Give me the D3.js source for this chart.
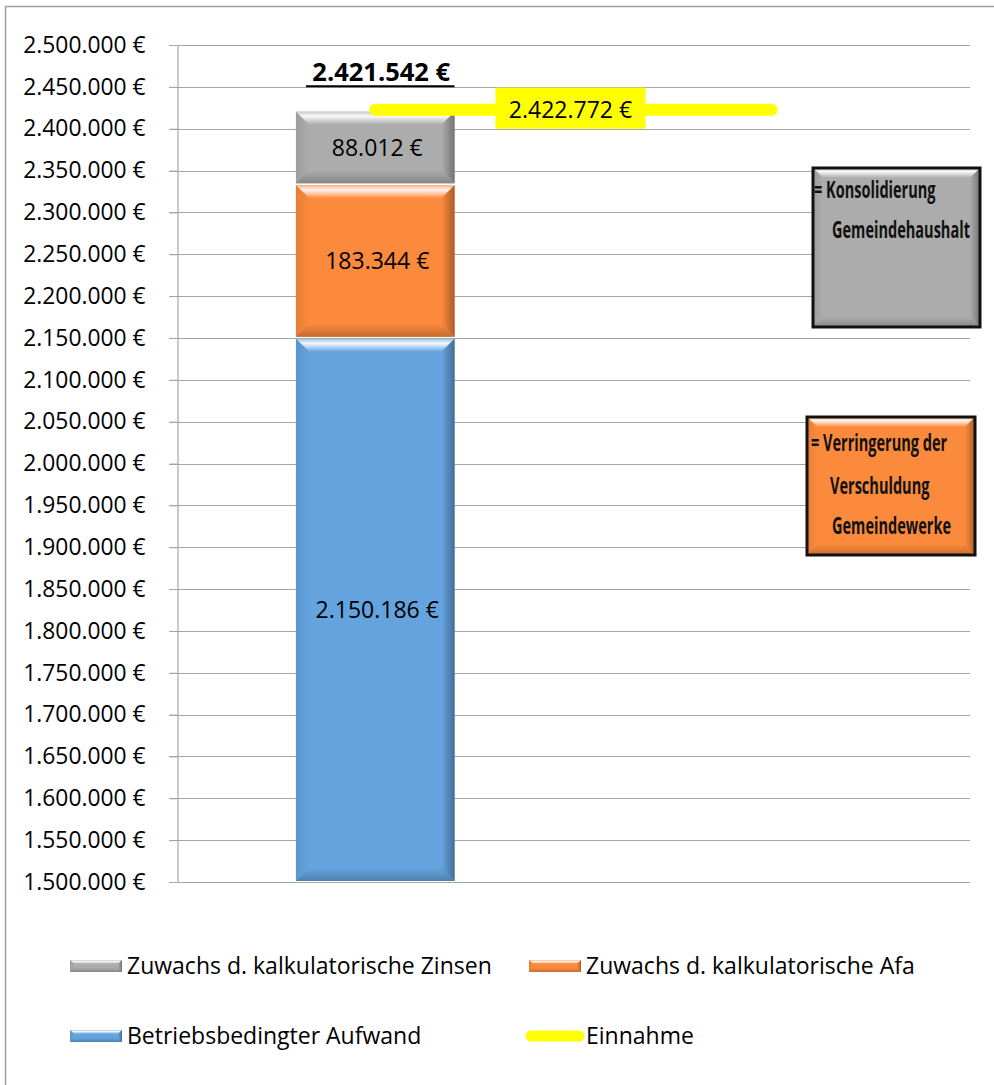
<!DOCTYPE html>
<html><head><meta charset="utf-8">
<script src="https://cdn.jsdelivr.net/npm/d3@7"></script>
<style>
html,body{margin:0;padding:0;background:#fff;}
svg{display:block;}
text{font-family:"Open Sans",Lato,sans-serif;}
</style></head>
<body><svg id="chart" width="994" height="1085"></svg>
<script>
// ---- data ----
const categories = ["A", "B"];
const betriebsbedingterAufwand = [2150186, null];
const zuwachsAfa = [183344, null];
const zuwachsZinsen = [88012, null];
const einnahme = [2422772, 2422772];
const totalLabel = ["2.421.542 €"];
const seriesNames = ["Zuwachs d. kalkulatorische Zinsen", "Zuwachs d. kalkulatorische Afa", "Betriebsbedingter Aufwand", "Einnahme"];
const yTickValues = d3.range(1500000, 2500001, 50000);
const noteGrey = ["= Konsolidierung", "Gemeindehaushalt"];
const noteOrange = ["= Verringerung der", "Verschuldung", "Gemeindewerke"];

// ---- setup ----
const de = d3.formatLocale({decimal: ",", thousands: ".", grouping: [3], currency: ["", " €"]});
const fmt = v => de.format(",.0f")(v) + " €";
const colors = {zinsen: "#acacac", afa: "#fb8a3c", betrieb: "#64a3de", einnahme: "#ffff00"};

const svg = d3.select("#chart");
const defs = svg.append("defs");
let gid = 0;
function grad(dir, stops) {
  const id = "g" + (gid++);
  const g = defs.append("linearGradient").attr("id", id)
    .attr("x1", 0).attr("y1", 0)
    .attr("x2", dir === "h" ? 1 : 0).attr("y2", dir === "v" ? 1 : 0);
  stops.forEach(([o, c]) => g.append("stop").attr("offset", o).attr("stop-color", c));
  return "url(#" + id + ")";
}
function bevel(g, x, y, w, h, base, b) {
  const dk = k => d3.color(base).darker(k).formatHex();
  const mix = (t) => d3.interpolateRgb(base, "#ffffff")(t);
  g.append("rect").attr("x", x).attr("y", y).attr("width", w).attr("height", h).attr("fill", base);
  const P = pts => pts.map(p => p.join(",")).join(" ");
  g.append("polygon").attr("points", P([[x, y], [x + w, y], [x + w - b, y + b], [x + b, y + b]]))
    .attr("fill", grad("v", [[0, mix(0.35)], [0.35, mix(0.92)], [1, base]]));
  g.append("polygon").attr("points", P([[x, y], [x + b, y + b], [x + b, y + h - b], [x, y + h]]))
    .attr("fill", grad("h", [[0, dk(0.25)], [1, base]]));
  g.append("polygon").attr("points", P([[x + w, y], [x + w - b, y + b], [x + w - b, y + h - b], [x + w, y + h]]))
    .attr("fill", grad("h", [[0, base], [1, dk(1.1)]]));
  g.append("polygon").attr("points", P([[x, y + h], [x + w, y + h], [x + w - b, y + h - b], [x + b, y + h - b]]))
    .attr("fill", grad("v", [[0, base], [1, dk(0.7)]]));
}

// outer border
svg.append("rect").attr("x", 5.5).attr("y", 6.5).attr("width", 1000).attr("height", 1100)
  .attr("fill", "none").attr("stroke", "#a0a0a0").attr("stroke-width", 1.5);

const plotL = 177, plotR = 970, plotT = 45, plotB = 882;
const y = d3.scaleLinear().domain([1500000, 2500000]).range([plotB, plotT]);
const x = d3.scaleBand().domain(categories).range([plotL, plotR]).padding(0);
const barW = x.bandwidth() * 0.4;

// gridlines
svg.append("g").selectAll("line").data(yTickValues).join("line")
  .attr("x1", plotL - 8).attr("x2", plotR)
  .attr("y1", d => Math.round(y(d)) + 0.5).attr("y2", d => Math.round(y(d)) + 0.5)
  .attr("stroke", "#a6a6a6").attr("stroke-width", 1.2);

// y axis
const yAxis = d3.axisLeft(y).tickValues(yTickValues).tickFormat(fmt).tickSize(8).tickPadding(24);
const ag = svg.append("g").attr("transform", `translate(${plotL + 0.5},0)`).call(yAxis);
ag.select(".domain").attr("stroke", "#a6a6a6").attr("stroke-width", 1.2);
ag.selectAll(".tick line").attr("stroke", "#a6a6a6");
ag.selectAll(".tick text").attr("font-family", "'Open Sans',sans-serif").attr("font-size", 22.8).attr("fill", "#000");

// stacked bars
const stackKeys = ["betrieb", "afa", "zinsen"];
const rows = categories.map((c, i) => ({cat: c, betrieb: betriebsbedingterAufwand[i] || 0, afa: zuwachsAfa[i] || 0, zinsen: zuwachsZinsen[i] || 0}));
const stacked = d3.stack().keys(stackKeys)(rows);
const barsG = svg.append("g");
stacked.forEach(layer => {
  layer.forEach(seg => {
    if (seg[1] - seg[0] <= 0) return;
    const cat = seg.data.cat;
    const x0 = x(cat) + (x.bandwidth() - barW) / 2;
    const top = y(seg[1]);
    const yb = layer.index === 0 ? plotB : y(seg[0]);
    const g = barsG.append("g");
    bevel(g, x0, top + 1, barW, yb - top - 2, colors[layer.key], 13);
    const val = seg[1] - seg[0];
    const cy = (top + yb) / 2;
    g.append("text").attr("x", x0 + barW / 2 + 2).attr("y", cy).attr("dy", "0.35em")
      .attr("text-anchor", "middle").attr("font-size", 23).attr("fill", "#000").text(fmt(val));
  });
});

// total label
const totalVal = rows[0].betrieb + rows[0].afa + rows[0].zinsen;
const tx = x(categories[0]) + x.bandwidth() / 2;
svg.append("text").attr("x", tx + 6).attr("y", y(totalVal) - 30).attr("text-anchor", "middle")
  .attr("font-size", 25.5).attr("font-weight", "bold").attr("fill", "#000").text(totalLabel[0]);
svg.append("line").attr("x1", x(categories[0]) + (x.bandwidth() - barW) / 2 + 10).attr("x2", x(categories[0]) + (x.bandwidth() + barW) / 2)
  .attr("y1", y(totalVal) - 24.5).attr("y2", y(totalVal) - 24.5).attr("stroke", "#000").attr("stroke-width", 2);

// Einnahme line
const line = d3.line().x((d, i) => x(categories[i]) + x.bandwidth() / 2).y(d => y(d));
svg.append("path").datum(einnahme).attr("d", line).attr("fill", "none")
  .attr("stroke", colors.einnahme).attr("stroke-width", 12).attr("stroke-linecap", "round");
const lx = (x(categories[0]) + x(categories[1]) + x.bandwidth()) / 2 - 3;
svg.append("rect").attr("x", lx - 75).attr("y", y(einnahme[0]) - 22).attr("width", 150).attr("height", 41).attr("fill", colors.einnahme);
svg.append("text").attr("x", lx).attr("y", y(einnahme[0])).attr("dy", "0.35em").attr("text-anchor", "middle")
  .attr("font-size", 23).attr("fill", "#000").text(fmt(einnahme[0]));

// annotation boxes (condensed bold text via horizontal scale)
const noteSize = 23;
const probe = svg.append("text").attr("font-size", noteSize).attr("font-weight", "bold").text(noteGrey[1]);
const squeeze = 138 / probe.node().getComputedTextLength();
probe.remove();
function note(x0, y0, w, h, color, lines, pos) {
  const g = svg.append("g");
  bevel(g, x0, y0, w, h, color, 10);
  g.append("rect").attr("x", x0).attr("y", y0).attr("width", w).attr("height", h)
    .attr("fill", "none").attr("stroke", "#111").attr("stroke-width", 3);
  lines.forEach((t, i) => g.append("text").attr("transform", `translate(${pos[i][0]},${pos[i][1]}) scale(${squeeze},1)`)
    .attr("dy", "0.35em").attr("font-size", noteSize).attr("font-weight", "bold").attr("fill", "#111").text(t));
}
note(813, 168, 167, 159, colors.zinsen, noteGrey, [[814, 190], [832, 230]]);
note(807, 417, 168, 138, colors.afa, noteOrange, [[811, 443], [830, 486], [832, 526]]);

// legend
const legend = [
  {name: seriesNames[0], key: "zinsen", x: 70, y: 966, type: "bar"},
  {name: seriesNames[1], key: "afa", x: 529, y: 966, type: "bar"},
  {name: seriesNames[2], key: "betrieb", x: 70, y: 1036, type: "bar"},
  {name: seriesNames[3], key: "einnahme", x: 529, y: 1036, type: "line"}
];
legend.forEach(l => {
  const g = svg.append("g");
  if (l.type === "bar") bevel(g, l.x, l.y - 6, 52, 12, colors[l.key], 4);
  else g.append("line").attr("x1", l.x + 2).attr("x2", l.x + 50).attr("y1", l.y).attr("y2", l.y)
    .attr("stroke", colors[l.key]).attr("stroke-width", 11).attr("stroke-linecap", "round");
  g.append("text").attr("x", l.x + 57).attr("y", l.y).attr("dy", "0.35em").attr("font-size", 23).attr("fill", "#000").text(l.name);
});
</script></body></html>
